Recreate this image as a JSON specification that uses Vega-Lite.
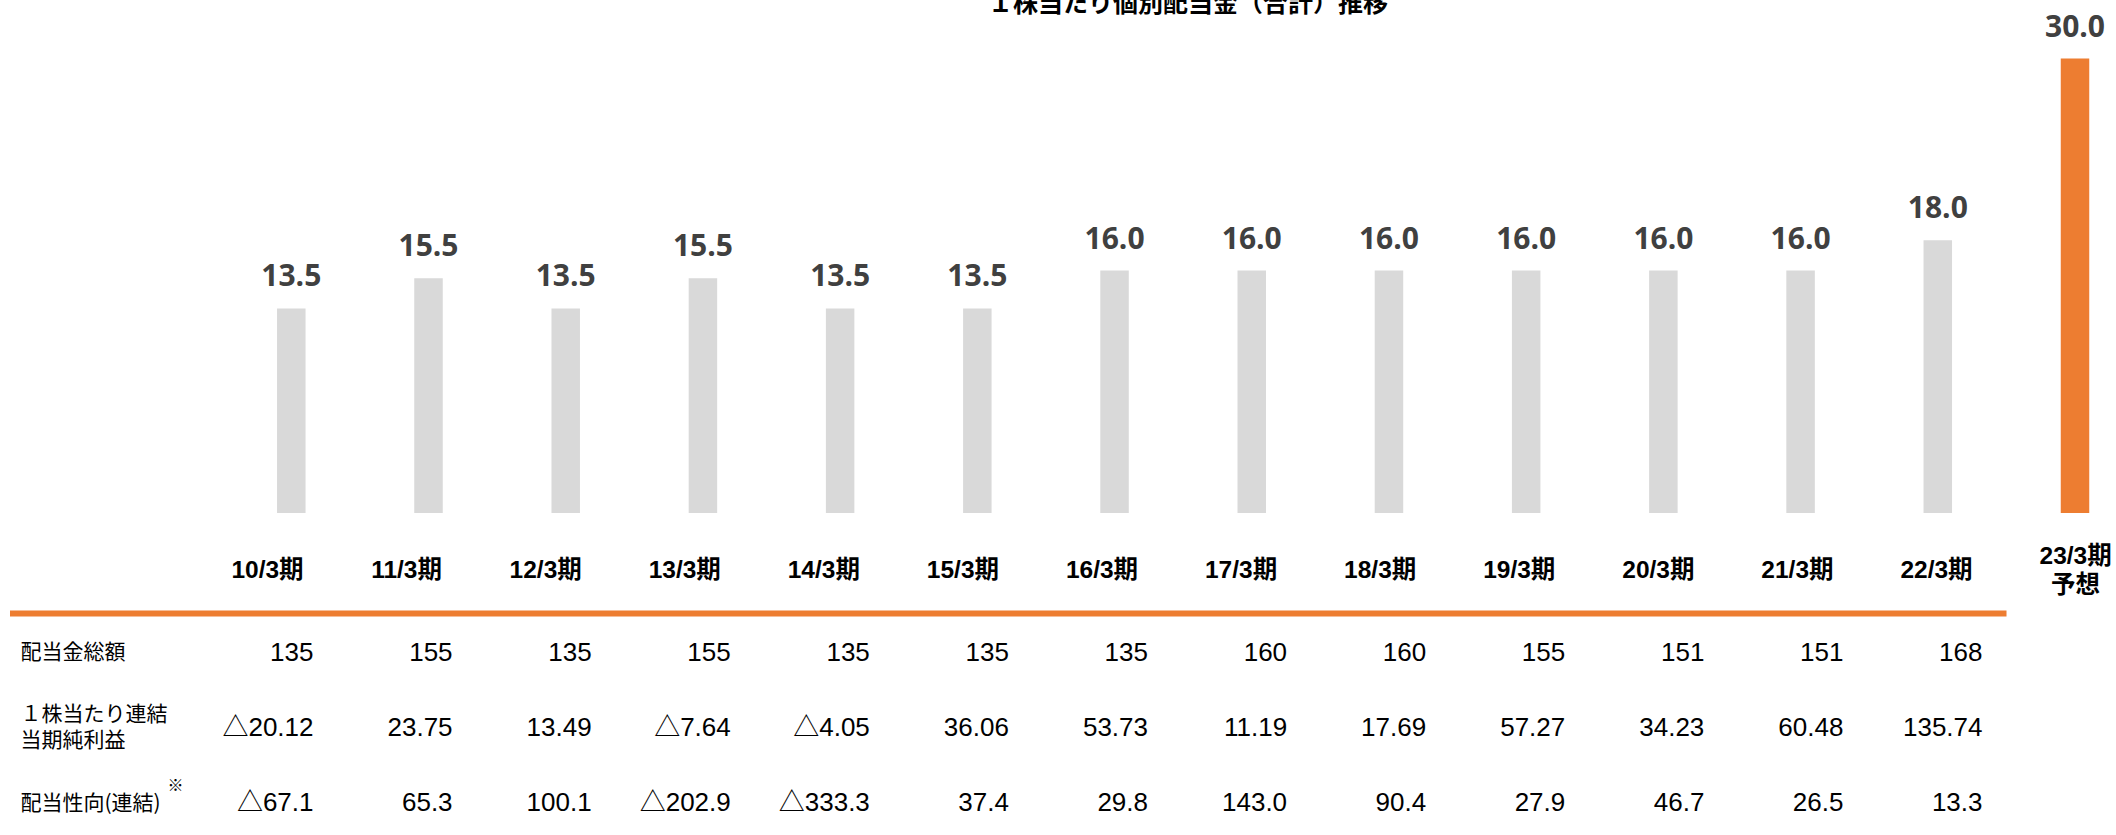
{
  "$schema": "https://vega.github.io/schema/vega-lite/v6.json",
  "width": 2116,
  "height": 835,
  "padding": 0,
  "autosize": {"type": "none"},
  "background": "#ffffff",
  "config": {"view": {"stroke": null}},
  "title": {
    "text": "１株当たり個別配当金（合計）推移",
    "font": "Noto Sans CJK JP",
    "fontSize": 25,
    "fontWeight": "bold",
    "color": "#000000",
    "anchor": "middle",
    "dx": 130,
    "dy": 37,
    "offset": 0,
    "baseline": "alphabetic"
  },
  "data": {
    "values": [
      {"period": "10/3期", "dps": 13.5, "type": "実績", "total": "135", "eps": "△20.12", "payout": "△67.1"},
      {"period": "11/3期", "dps": 15.5, "type": "実績", "total": "155", "eps": "23.75", "payout": "65.3"},
      {"period": "12/3期", "dps": 13.5, "type": "実績", "total": "135", "eps": "13.49", "payout": "100.1"},
      {"period": "13/3期", "dps": 15.5, "type": "実績", "total": "155", "eps": "△7.64", "payout": "△202.9"},
      {"period": "14/3期", "dps": 13.5, "type": "実績", "total": "135", "eps": "△4.05", "payout": "△333.3"},
      {"period": "15/3期", "dps": 13.5, "type": "実績", "total": "135", "eps": "36.06", "payout": "37.4"},
      {"period": "16/3期", "dps": 16.0, "type": "実績", "total": "135", "eps": "53.73", "payout": "29.8"},
      {"period": "17/3期", "dps": 16.0, "type": "実績", "total": "160", "eps": "11.19", "payout": "143.0"},
      {"period": "18/3期", "dps": 16.0, "type": "実績", "total": "160", "eps": "17.69", "payout": "90.4"},
      {"period": "19/3期", "dps": 16.0, "type": "実績", "total": "155", "eps": "57.27", "payout": "27.9"},
      {"period": "20/3期", "dps": 16.0, "type": "実績", "total": "151", "eps": "34.23", "payout": "46.7"},
      {"period": "21/3期", "dps": 16.0, "type": "実績", "total": "151", "eps": "60.48", "payout": "26.5"},
      {"period": "22/3期", "dps": 18.0, "type": "実績", "total": "168", "eps": "135.74", "payout": "13.3"},
      {"period": "23/3期 予想", "dps": 30.0, "type": "予想", "total": null, "eps": null, "payout": null}
    ]
  },
  "layer": [
    {
      "encoding": {
        "x": {
          "field": "period",
          "type": "nominal",
          "sort": null,
          "axis": null,
          "scale": {"type": "point", "padding": 0, "range": [291.3, 2075]}
        },
        "y": {
          "field": "dps",
          "type": "quantitative",
          "axis": null,
          "scale": {"domain": [0, 30], "range": [513, 58.5], "nice": false, "zero": true}
        }
      },
      "layer": [
        {
          "mark": {"type": "bar", "width": 28.5},
          "encoding": {
            "color": {
              "field": "type",
              "type": "nominal",
              "legend": null,
              "scale": {"domain": ["実績", "予想"], "range": ["#D9D9D9", "#ED7D31"]}
            }
          }
        },
        {
          "mark": {
            "type": "text",
            "dy": -22,
            "baseline": "alphabetic",
            "align": "center",
            "font": "Open Sans",
            "fontWeight": "bold",
            "fontSize": 30,
            "color": "#404040"
          },
          "encoding": {
            "text": {"field": "dps", "type": "quantitative", "format": ".1f"}
          }
        }
      ]
    },
    {
      "encoding": {
        "x": {
          "field": "period",
          "type": "nominal",
          "sort": null,
          "axis": null,
          "scale": {"type": "point", "padding": 0, "range": [267.5, 2075.6]}
        }
      },
      "layer": [
        {
          "transform": [
            {"fold": ["total", "eps", "payout"], "as": ["item", "val"]},
            {"filter": "isValid(datum.val)"}
          ],
          "mark": {
            "type": "text",
            "align": "right",
            "baseline": "middle",
            "dx": 46,
            "font": "Liberation Sans, Noto Sans CJK JP",
            "fontSize": 26,
            "color": "#000000"
          },
          "encoding": {
            "y": {
              "field": "item",
              "type": "nominal",
              "sort": null,
              "scale": {"type": "point", "padding": 0, "domain": ["total", "eps", "payout"], "range": [652.5, 803]},
              "axis": {
                "orient": "left",
                "domain": false,
                "ticks": false,
                "tickSize": 0,
                "grid": false,
                "title": null,
                "labelPadding": -20,
                "labelAlign": "left",
                "labelBaseline": "middle",
                "labelOffset": {"condition": {"test": "datum.value == 'eps'", "value": -13}, "value": 0},
                "labelFont": "Noto Sans CJK JP",
                "labelFontSize": 21,
                "labelColor": "#000000",
                "labelLineHeight": 25.5,
                "labelOverlap": false,
                "labelExpr": "datum.value == 'total' ? '配当金総額' : datum.value == 'eps' ? ['１株当たり連結', '当期純利益'] : '配当性向(連結)'"
              }
            },
            "text": {"field": "val", "type": "nominal"}
          }
        },
        {
          "transform": [{"filter": "datum.type == '実績'"}],
          "mark": {
            "type": "text",
            "align": "center",
            "baseline": "middle",
            "dy": -81.5,
            "font": "Liberation Sans, Noto Sans CJK JP",
            "fontWeight": "bold",
            "fontSize": 24.5,
            "color": "#000000"
          },
          "encoding": {
            "y": {"datum": "total", "type": "nominal"},
            "text": {"field": "period", "type": "nominal"}
          }
        },
        {
          "transform": [{"filter": "datum.type == '予想'"}],
          "mark": {
            "type": "text",
            "align": "center",
            "baseline": "middle",
            "dy": -96,
            "lineBreak": " ",
            "lineHeight": 29,
            "font": "Liberation Sans, Noto Sans CJK JP",
            "fontWeight": "bold",
            "fontSize": 24.5,
            "color": "#000000"
          },
          "encoding": {
            "y": {"datum": "total", "type": "nominal"},
            "text": {"field": "period", "type": "nominal"}
          }
        },
        {
          "data": {"values": [{"kind": "separator"}]},
          "mark": {
            "type": "rule",
            "color": "#ED7D31",
            "strokeWidth": 6,
            "xOffset": -257.5,
            "x2Offset": 70,
            "yOffset": -39
          },
          "encoding": {
            "x": {"datum": "10/3期", "type": "nominal"},
            "x2": {"datum": "22/3期"},
            "y": {"datum": "total", "type": "nominal"}
          }
        },
        {
          "data": {"values": [{"note": "※"}]},
          "mark": {
            "type": "text",
            "align": "center",
            "baseline": "middle",
            "dx": -92,
            "dy": -17,
            "font": "Noto Sans CJK JP",
            "fontSize": 16,
            "color": "#000000"
          },
          "encoding": {
            "x": {"datum": "10/3期", "type": "nominal"},
            "y": {"datum": "payout", "type": "nominal"},
            "text": {"field": "note", "type": "nominal"}
          }
        }
      ]
    }
  ],
  "resolve": {"scale": {"x": "independent", "y": "independent", "color": "independent"}}
}
